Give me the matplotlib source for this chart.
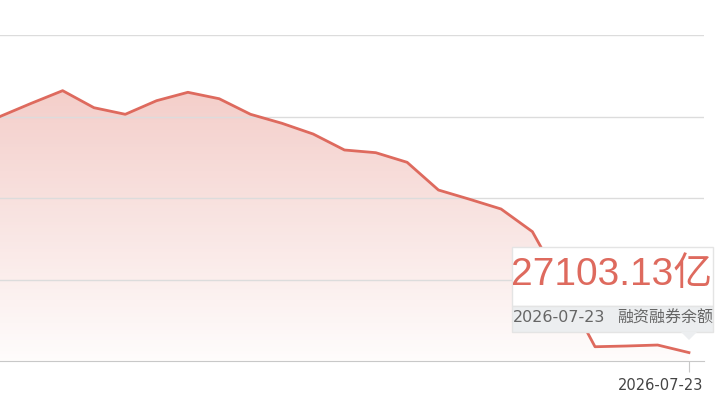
import numpy as np
import matplotlib.pyplot as plt
from matplotlib.patches import Rectangle, Polygon
from matplotlib.transforms import ScaledTranslation

plt.rcParams['font.family'] = ['Noto Sans CJK SC', 'DejaVu Sans']

# trading days shown on the chart
dates = ["2026-06-23", "2026-06-24", "2026-06-25", "2026-06-26", "2026-06-29",
         "2026-06-30", "2026-07-01", "2026-07-02", "2026-07-03", "2026-07-06",
         "2026-07-07", "2026-07-08", "2026-07-09", "2026-07-10", "2026-07-13",
         "2026-07-14", "2026-07-15", "2026-07-16", "2026-07-17", "2026-07-20",
         "2026-07-21", "2026-07-22", "2026-07-23"]
# 融资融券余额 (亿)
balance = [30000, 30162, 30317, 30108, 30027, 30194, 30297, 30218, 30027, 29917,
           29785, 29589, 29556, 29438, 29098, 28984, 28865, 28587, 27896, 27175,
           27184, 27196, 27103.13]
series_name = "融资融券余额"

line_c = "#de6a5e"
W, H = 720, 405

fig = plt.figure(figsize=(7.2, 4.05), dpi=100)
ax = fig.add_axes([0, (H - 361) / H, 704 / W, (361 - 35) / H])

x = np.arange(len(balance))
y = np.array(balance)

ax.set_xlim(0, 22.48)
ax.set_ylim(27000, 31000)

# gradient area under the line
fill = ax.fill_between(x, y, 27000, color="none", lw=0)
grad = np.linspace(0.34, 0.02, 256).reshape(-1, 1)
rgba = np.zeros((256, 1, 4))
rgba[..., 0], rgba[..., 1], rgba[..., 2] = 0.87, 0.42, 0.37
rgba[..., 3] = grad
img = ax.imshow(rgba, extent=[0, 22.48, 27000, 30400], aspect="auto", origin="upper", zorder=1)
img.set_clip_path(fill.get_paths()[0], transform=ax.transData)
ax.set_ylim(27000, 31000)

for gv in [28000, 29000, 30000, 31000]:
    ax.axhline(gv, color="#dcdcdc", lw=1, zorder=2)

ax.plot(x, y, color=line_c, lw=2, zorder=3, solid_joinstyle="round")

for s in ["top", "right", "left"]:
    ax.spines[s].set_visible(False)
ax.spines["bottom"].set_color("#c8c8c8")
ax.set_yticks([])
ax.set_xticks([x[-1]])
ax.set_xticklabels([dates[-1]], color="#444444", fontsize=10.5, family="DejaVu Sans")
ax.tick_params(axis="x", length=8, color="#c8c8c8", pad=4)
for lab in ax.get_xticklabels():
    lab.set_horizontalalignment("right")
    lab.set_transform(lab.get_transform() + ScaledTranslation(0.14, 0, fig.dpi_scale_trans))

# tooltip
def fx(px):
    return px / W

def fy(py):
    return 1 - py / H

fig.patches.append(Rectangle((fx(512), fy(306)), fx(713) - fx(512), fy(247) - fy(306),
                             transform=fig.transFigure, facecolor="white",
                             edgecolor="#e4e4e4", lw=1, zorder=10))
fig.patches.append(Rectangle((fx(512), fy(332)), fx(713) - fx(512), fy(306) - fy(332),
                             transform=fig.transFigure, facecolor="#eceef0",
                             edgecolor="#e4e4e4", lw=1, zorder=10))
fig.patches.append(Polygon([(fx(681), fy(332)), (fx(697), fy(332)), (fx(689), fy(340))],
                           closed=True, transform=fig.transFigure, facecolor="#eceef0",
                           edgecolor="none", zorder=10))
fig.text(fx(612), fy(275), f"{balance[-1]:.2f}亿", color=line_c, fontsize=28,
         family=["Liberation Sans", "Noto Sans CJK SC"],
         ha="center", va="center", zorder=11)
fig.text(fx(513), fy(318), dates[-1], color="#666666", fontsize=11.5,
         family="DejaVu Sans", ha="left", va="center", zorder=11)
fig.text(fx(713), fy(318), series_name, color="#666666", fontsize=11.5,
         ha="right", va="center", zorder=11)

fig.savefig("out.png", dpi=100)
